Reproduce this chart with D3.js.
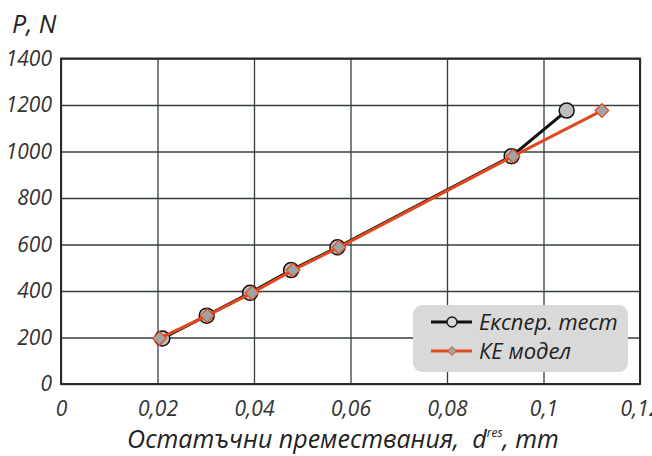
<!DOCTYPE html>
<html><head><meta charset="utf-8">
<script src="https://cdn.jsdelivr.net/npm/d3@7"></script>
<style>body{margin:0;background:#fff;} svg{display:block;} text{font-family:"Open Sans",sans-serif;font-style:italic;}</style>
</head><body>
<svg id="c" width="652" height="456"></svg>
<script>
const expX = [0.0210, 0.0302, 0.0392, 0.0477, 0.0573, 0.0934, 0.1048];
const expY = [196, 294, 392, 490, 588, 980, 1176];
const keX  = [0.0204, 0.0303, 0.0396, 0.0481, 0.0576, 0.0937, 0.1121];
const keY  = [196, 294, 392, 490, 588, 980, 1176];
const xTicks = [0, 0.02, 0.04, 0.06, 0.08, 0.1, 0.12];
const yTicks = [0, 200, 400, 600, 800, 1000, 1200, 1400];
const seriesNames = ["Експер. тест", "КЕ модел"];

const svg = d3.select("#c");
const L = 61, R = 640, T = 58.5, B = 384;
const x = d3.scaleLinear().domain([0, 0.12]).range([L, R]);
const y = d3.scaleLinear().domain([0, 1400]).range([B, T]);
const fmt = d => d === 0 ? "0" : String(+d.toFixed(2)).replace(".", ",");

// grid
const gx = svg.append("g").attr("transform", `translate(0,${B})`)
  .call(d3.axisBottom(x).tickValues(xTicks).tickSize(-(B - T)).tickFormat(fmt).tickPadding(17));
gx.select(".domain").remove();
gx.selectAll("line").attr("stroke", "#34403f").attr("stroke-width", 1.3);
gx.selectAll("text").attr("fill", "#333").style("font-size", "21px");

const gy = svg.append("g").attr("transform", `translate(${L},0)`)
  .call(d3.axisLeft(y).tickValues(yTicks).tickSize(-(R - L)).tickFormat(d => d).tickPadding(9));
gy.select(".domain").remove();
gy.selectAll("line").attr("stroke", "#34403f").attr("stroke-width", 1.3);
gy.selectAll("text").attr("fill", "#333").style("font-size", "21px");

// frame
svg.append("rect").attr("x", L).attr("y", T).attr("width", R - L).attr("height", B - T)
  .attr("fill", "none").attr("stroke", "#2a2a2a").attr("stroke-width", 2);

const expData = expX.map((v, i) => [v, expY[i]]);
const keData = keX.map((v, i) => [v, keY[i]]);
const line = d3.line().x(d => x(d[0])).y(d => y(d[1]));

svg.append("path").datum(expData).attr("d", line).attr("fill", "none")
  .attr("stroke", "#111").attr("stroke-width", 3);
svg.selectAll("circle.exp").data(expData).join("circle").attr("class", "exp")
  .attr("cx", d => x(d[0])).attr("cy", d => y(d[1])).attr("r", 7.5)
  .attr("fill", "#bdbdbd").attr("stroke", "#111").attr("stroke-width", 1.5);

svg.append("path").datum(keData).attr("d", line).attr("fill", "none")
  .attr("stroke", "#e2481e").attr("stroke-width", 3);
const diamond = d3.symbol().type(d3.symbolDiamond2).size(120);
svg.selectAll("path.ke").data(keData).join("path").attr("class", "ke")
  .attr("d", diamond).attr("transform", d => `translate(${x(d[0])},${y(d[1])})`)
  .attr("fill", "#a3a3a3").attr("stroke", "#e2481e").attr("stroke-width", 1.2);

// legend
const lg = svg.append("g");
lg.append("rect").attr("x", 413).attr("y", 305).attr("width", 215).attr("height", 67)
  .attr("rx", 9).attr("fill", "#d9d9d9");
const rows = [322, 351];
lg.append("line").attr("x1", 431).attr("x2", 472).attr("y1", rows[0]).attr("y2", rows[0])
  .attr("stroke", "#111").attr("stroke-width", 3);
lg.append("circle").attr("cx", 452).attr("cy", rows[0]).attr("r", 5)
  .attr("fill", "#d9d9d9").attr("stroke", "#111").attr("stroke-width", 1.3);
lg.append("line").attr("x1", 431).attr("x2", 472).attr("y1", rows[1]).attr("y2", rows[1])
  .attr("stroke", "#e2481e").attr("stroke-width", 3);
lg.append("path").attr("d", d3.symbol().type(d3.symbolDiamond2).size(50))
  .attr("transform", `translate(452,${rows[1]})`)
  .attr("fill", "#a3a3a3").attr("stroke", "#e2481e").attr("stroke-width", 1);
seriesNames.forEach((n, i) => {
  lg.append("text").attr("x", 479).attr("y", rows[i] + 8).text(n)
    .attr("fill", "#222").style("font-size", "22px");
});

// titles
svg.append("text").attr("x", 12).attr("y", 33).text("P, N").attr("fill", "#222").style("font-size", "25px");
const xt = svg.append("text").attr("x", 343).attr("y", 448).attr("text-anchor", "middle")
  .attr("fill", "#222").style("font-size", "25px").style("white-space", "pre");
xt.append("tspan").text("Остатъчни премествания,  d");
xt.append("tspan").attr("dy", -11).style("font-size", "12px").text("res");
xt.append("tspan").attr("dy", 11).text(", mm");
</script>
</body></html>
